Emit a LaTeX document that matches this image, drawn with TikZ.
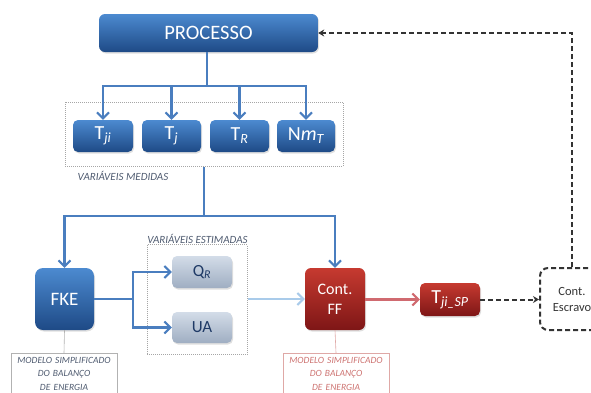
\documentclass[tikz,border=0pt]{standalone}
\usepackage{fontspec}
\setmainfont{Carlito}
\usetikzlibrary{arrows.meta,shadows,calc}
\definecolor{bluetop}{HTML}{4C8AD0}
\definecolor{bluebot}{HTML}{1E4A86}
\definecolor{arrowblue}{HTML}{4A7EBF}
\definecolor{lightarrow}{HTML}{A9CBEA}
\definecolor{graytop}{HTML}{D3DCE8}
\definecolor{graybot}{HTML}{9FAEC2}
\definecolor{graytext}{HTML}{1F3A66}
\definecolor{redtop}{HTML}{C63A30}
\definecolor{redbot}{HTML}{7E1616}
\definecolor{pinkarrow}{HTML}{D06A70}
\definecolor{labelgray}{HTML}{4F5B70}
\definecolor{annotred}{HTML}{C0504D}
\definecolor{dashgray}{HTML}{333333}
\begin{document}
\begin{tikzpicture}[x=1pt,y=-1pt,
  bluebox/.style={rounded corners=5pt, top color=bluetop, bottom color=bluebot, draw=none, text=white,
    drop shadow={opacity=0.25, shadow xshift=1pt, shadow yshift=-1.5pt}, inner sep=0pt},
  graybox/.style={rounded corners=5pt, top color=graytop, bottom color=graybot, draw=none, text=graytext,
    drop shadow={opacity=0.25, shadow xshift=1pt, shadow yshift=-1.5pt}, inner sep=0pt},
  redbox/.style={rounded corners=6pt, top color=redtop, bottom color=redbot, draw=none, text=white,
    drop shadow={opacity=0.25, shadow xshift=1pt, shadow yshift=-1.5pt}, inner sep=0pt},
  dotbox/.style={draw=gray!70, densely dotted, line width=1pt, inner sep=0pt},
  barrow/.style={draw=arrowblue, line width=2.4pt, -{Straight Barb[length=6pt,width=12pt,line width=2pt]}},
  bline/.style={draw=arrowblue, line width=2.4pt},
  larrow/.style={draw=lightarrow, line width=2.4pt, -{Straight Barb[length=6pt,width=12pt,line width=2pt]}},
  rarrow/.style={draw=pinkarrow, line width=2.4pt, -{Straight Barb[length=6pt,width=12pt,line width=2pt]}},
  dasharrow/.style={draw=dashgray, line width=2pt, dash pattern=on 5pt off 3pt, -{Stealth[length=6pt,width=7pt]}},
  dashline/.style={draw=dashgray, line width=2pt, dash pattern=on 5pt off 3pt},
  grouplabel/.style={font=\fontsize{11}{12}\selectfont\itshape, text=labelgray},
  annot/.style={draw=gray!60, line width=0.6pt, anchor=north, align=center, text width=100pt,
    inner xsep=3pt, inner ysep=4pt, font=\fontsize{9.5}{13.5}\selectfont\itshape, text=labelgray},
  annotr/.style={annot, draw=annotred!50, text=annotred!80},
  thin/.style={draw=gray!60, line width=0.6pt},
  thinr/.style={draw=annotred!50, line width=0.6pt}
]
\useasboundingbox (0,0) rectangle (591,392);
\clip (0,0) rectangle (591,392);

% top process
\node[bluebox, rounded corners=6pt, minimum width=219pt, minimum height=38pt, font=\fontsize{20.5}{20.5}\selectfont] (proc) at (208.5,33) {PROCESSO};

% measured variables
\node[dotbox, minimum width=278pt, minimum height=64pt] (medbox) at (204,134) {};
\node[bluebox, minimum width=60pt, minimum height=32pt, font=\fontsize{20}{20}\selectfont] (tji) at (103,136) {T\textsubscript{\itshape ji}};
\node[bluebox, minimum width=59pt, minimum height=32pt, font=\fontsize{20}{20}\selectfont] (tj) at (171.5,136) {T\textsubscript{\itshape j}};
\node[bluebox, minimum width=59pt, minimum height=32pt, font=\fontsize{20}{20}\selectfont] (tr) at (239.5,136) {T\textsubscript{\itshape R}};
\node[bluebox, minimum width=58pt, minimum height=32pt, font=\fontsize{20}{20}\selectfont] (nmt) at (306,136) {N\textit{m}\textsubscript{\itshape T}};
\node[grouplabel] (medlab) at (123,176) {VARIÁVEIS MEDIDAS};

\coordinate (jA) at ($(proc.south)+(-1.5,34)$);
\draw[bline] (proc.south -| jA) -- (jA);
\draw[barrow] (jA) -| (tji.north);
\draw[barrow] (jA) -| (tj.north);
\draw[barrow] (jA) -| (tr.north);
\draw[barrow] (jA) -| (nmt.north);

% second level
\node[bluebox, rounded corners=8pt, minimum width=59pt, minimum height=62pt, font=\fontsize{19}{19}\selectfont] (fke) at (64.5,299) {FKE};
\node[redbox, minimum width=60pt, minimum height=62pt, align=center, font=\fontsize{16}{20}\selectfont] (ff) at (335,299) {Cont.\\FF};

\coordinate (jB) at (204,216);
\draw[bline] (medbox.south) -- (jB);
\draw[barrow] (jB) -| (fke.north);
\draw[barrow] (jB) -| (ff.north);

% estimated variables
\node[dotbox, minimum width=100pt, minimum height=110pt] (estbox) at (197,299.5) {};
\node[graybox, minimum width=60pt, minimum height=32pt, font=\fontsize{17}{17}\selectfont] (qr) at (202,272) {Q\textsubscript{\itshape R}};
\node[graybox, minimum width=60pt, minimum height=31pt, font=\fontsize{17}{17}\selectfont] (ua) at (202,327.5) {UA};
\node[grouplabel] (estlab) at (197.5,239) {VARIÁVEIS ESTIMADAS};

\coordinate (jC) at (133,299);
\draw[bline] (fke.east |- jC) -- (jC);
\draw[barrow] (jC) |- (qr.west);
\draw[barrow] (jC) |- (ua.west);
\draw[larrow] (estbox.east |- ff.west) -- (ff.west);

% setpoint and slave controller
\node[redbox, rounded corners=5pt, minimum width=60pt, minimum height=33pt, font=\fontsize{20}{20}\selectfont] (sp) at (450,299.5) {T\textsubscript{\itshape ji\_SP}};
\draw[rarrow] (ff.east |- sp.west) -- (sp.west);

\node[dashline, rounded corners=8pt, minimum width=64pt, minimum height=62pt, align=center, text=black!80, font=\fontsize{12.5}{16}\selectfont] (esc) at (572,299) {Cont.\\Escravo};
\draw[dasharrow] (sp.east) -- (esc.west |- sp.east);
\draw[dasharrow] (esc.north) |- (proc.east);

% annotations
\node[annot] (an1) at (64,353) {MODELO SIMPLIFICADO\\DO BALANÇO\\DE ENERGIA};
\draw[thin] (fke.south) -- (an1.north);
\node[annotr] (an2) at (336,353) {MODELO SIMPLIFICADO\\DO BALANÇO\\DE ENERGIA};
\draw[thinr] (ff.south) -- (an2.north);
\end{tikzpicture}
\end{document}
